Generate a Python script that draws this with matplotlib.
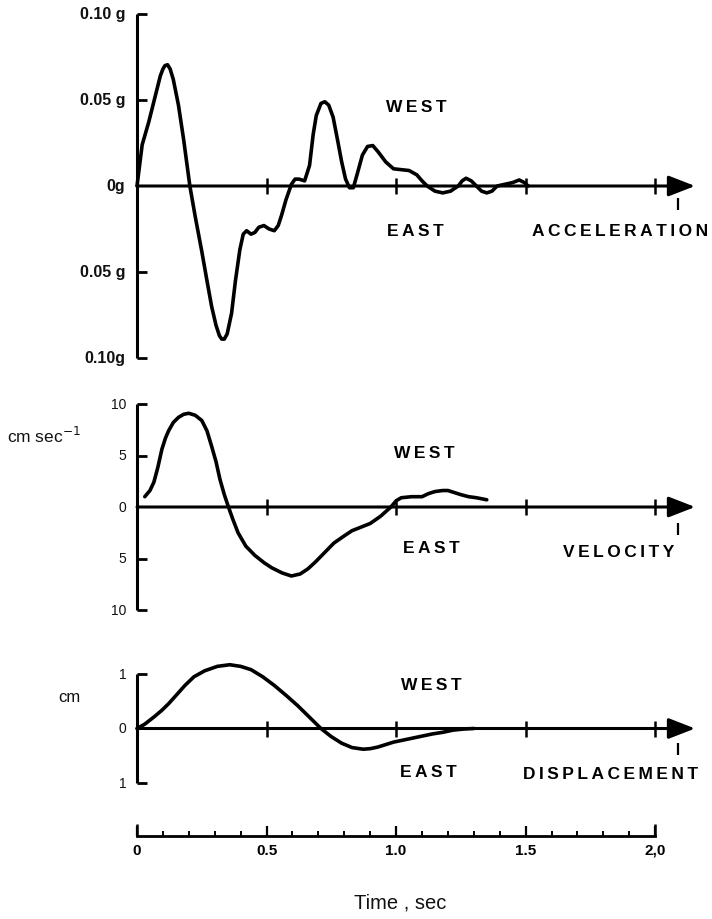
import matplotlib
matplotlib.use("Agg")
import matplotlib.pyplot as plt

# ---------------- data ----------------
acc_t = [0.00, 0.01, 0.02, 0.045, 0.07, 0.09, 0.100, 0.108, 0.118, 0.128, 0.14, 0.16, 0.18, 0.204,
         0.225, 0.25, 0.27, 0.288, 0.305, 0.318, 0.327, 0.337, 0.348, 0.365, 0.38, 0.397, 0.41,
         0.423, 0.44, 0.455, 0.47, 0.49, 0.51, 0.53, 0.545, 0.558, 0.575, 0.596,
         0.61, 0.625, 0.647, 0.666, 0.68, 0.692, 0.71, 0.725, 0.74, 0.757, 0.775,
         0.79, 0.805, 0.82, 0.835, 0.85, 0.87, 0.89, 0.91, 0.93, 0.96, 0.99, 1.02,
         1.05, 1.08, 1.10, 1.12, 1.15, 1.18, 1.21, 1.24, 1.255, 1.27, 1.29, 1.31,
         1.33, 1.35, 1.37, 1.39, 1.42, 1.45, 1.475, 1.495, 1.51]
acc_g = [0.000, 0.012, 0.024, 0.037, 0.052, 0.064, 0.068, 0.070, 0.0705, 0.068, 0.062, 0.047, 0.027, 0.000,
         -0.018, -0.038, -0.055, -0.070, -0.081, -0.087, -0.089, -0.089, -0.086, -0.074, -0.055, -0.037, -0.028,
         -0.026, -0.028, -0.027, -0.024, -0.023, -0.025, -0.026, -0.023, -0.017, -0.008, 0.001,
         0.004, 0.004, 0.003, 0.012, 0.030, 0.041, 0.048, 0.049, 0.047, 0.040, 0.026,
         0.014, 0.004, -0.001, -0.001, 0.007, 0.018, 0.023, 0.0235, 0.020, 0.014, 0.010, 0.0095,
         0.009, 0.0065, 0.003, 0.000, -0.003, -0.004, -0.003, 0.000, 0.003, 0.0045, 0.003, 0.000,
         -0.003, -0.004, -0.003, 0.000, 0.001, 0.002, 0.0035, 0.002, 0.000]

vel_t = [0.03, 0.05, 0.065, 0.08, 0.096, 0.11, 0.122, 0.14, 0.16, 0.18, 0.20, 0.225,
         0.25, 0.27, 0.288, 0.305, 0.32, 0.337, 0.353, 0.37, 0.39, 0.42, 0.455, 0.49,
         0.52, 0.56, 0.596, 0.63, 0.66, 0.69, 0.725, 0.76, 0.80, 0.83, 0.86, 0.90,
         0.94, 0.98, 1.00, 1.02, 1.06, 1.10, 1.125, 1.15, 1.18, 1.20, 1.225, 1.25,
         1.28, 1.31, 1.35]
vel_cm = [1.0, 1.6, 2.4, 3.8, 5.6, 6.7, 7.4, 8.2, 8.7, 9.0, 9.1, 8.9,
          8.4, 7.4, 5.9, 4.4, 2.7, 1.2, 0.0, -1.2, -2.5, -3.8, -4.7, -5.4,
          -5.9, -6.4, -6.7, -6.5, -6.0, -5.3, -4.4, -3.5, -2.8, -2.3, -2.0, -1.6,
          -0.9, 0.0, 0.6, 0.9, 1.0, 1.0, 1.3, 1.5, 1.6, 1.6, 1.4, 1.2,
          1.0, 0.9, 0.7]

dis_t = [0.0, 0.03, 0.065, 0.095, 0.123, 0.155, 0.185, 0.22, 0.262, 0.31, 0.358, 0.40,
         0.44, 0.485, 0.53, 0.575, 0.62, 0.665, 0.71, 0.75, 0.79, 0.83, 0.873, 0.90,
         0.93, 0.99, 1.04, 1.09, 1.14, 1.18, 1.22, 1.26, 1.30]
dis_cm = [0.0, 0.08, 0.21, 0.33, 0.46, 0.63, 0.79, 0.95, 1.06, 1.14, 1.17, 1.14,
          1.08, 0.95, 0.79, 0.61, 0.42, 0.21, 0.0, -0.15, -0.27, -0.35, -0.38, -0.37,
          -0.34, -0.25, -0.20, -0.15, -0.10, -0.07, -0.03, -0.01, 0.0]

time_ticks = [0.5, 1.0, 1.5, 2.0]
acc_yticks = [0.10, 0.05, 0.0, -0.05, -0.10]
acc_ylabels = ["0.10 g", "0.05 g", "0g", "0.05 g", "0.10g"]
vel_yticks = [10, 5, 0, -5, -10]
vel_ylabels = ["10", "5", "0", "5", "10"]
dis_yticks = [1, 0, -1]
dis_ylabels = ["1", "0", "1"]
ruler_major = [0.0, 0.5, 1.0, 1.5, 2.0]
ruler_labels = ["0", "0.5", "1.0", "1.5", "2,0"]
ruler_minor = [0.1, 0.2, 0.3, 0.4, 0.6, 0.7, 0.8, 0.9, 1.1, 1.2, 1.3, 1.4,
               1.6, 1.7, 1.8, 1.9]

# ---------------- figure ----------------
W, H = 712, 920
fig = plt.figure(figsize=(W / 100, H / 100), dpi=100)
fig.patch.set_facecolor("white")

FAM = ["Liberation Sans", "DejaVu Sans"]
TS = "\u2009"  # thin space for letter spacing
def spaced(s):
    return TS.join(list(s))

X0 = 137
XW = 570  # pixels for 0..2.2 s


def panel(top, bottom, ylim):
    ax = fig.add_axes([X0 / W, (H - bottom) / H, XW / W, (bottom - top) / H])
    ax.set_xlim(0, 2.2)
    ax.set_ylim(*ylim)
    ax.axis("off")
    return ax


def draw_axes(ax, ylim, brackets, tick_len=0.04):
    k = dict(color="black", lw=2.2, clip_on=False, solid_capstyle="butt")
    ax.plot([0, 0], list(ylim), **k)
    ax.hlines(brackets, 0, tick_len, colors="black", lw=2.0, clip_on=False)
    ax.annotate("", xy=(2.154, 0), xytext=(0, 0),
                arrowprops=dict(arrowstyle="-|>,head_length=0.9,head_width=0.35",
                                lw=2.2, color="black", shrinkA=0, shrinkB=0,
                                mutation_scale=18),
                annotation_clip=False)
    ax.plot(time_ticks, [0] * len(time_ticks), ls="none", marker="|",
            ms=11, mew=1.8, color="black", clip_on=False)


def curve(ax, t, v):
    ax.plot(t, v, color="black", lw=2.6, solid_capstyle="round",
            solid_joinstyle="round", clip_on=False)


BIG = dict(fontsize=12.5, fontweight="bold", family=FAM, color="black")
SMALL = dict(fontsize=11.5, fontweight="bold", family=FAM, color="#111111")
REG = dict(family=FAM, color="#111111")

# ---- acceleration ----
ax1 = panel(15, 359, (-0.10, 0.10))
draw_axes(ax1, (-0.10, 0.10), [0.10, 0.05, -0.05, -0.10])
curve(ax1, acc_t, acc_g)
for yv, lab in zip(acc_yticks, acc_ylabels):
    ax1.text(-0.045, yv, lab, ha="right", va="center", **SMALL)
ax1.text(1.077, 0.0465, spaced("WEST"), ha="center", va="center", **BIG)
ax1.text(1.073, -0.026, spaced("EAST"), ha="center", va="center", **BIG)
ax1.text(1.525, -0.026, spaced("ACCELERATION"), ha="left", va="center", **BIG)
ax1.plot([2.09], [-0.0105], marker="|", ms=9, mew=1.6, color="black", clip_on=False)

# ---- velocity ----
ax2 = panel(405, 611, (-10, 10))
draw_axes(ax2, (-10, 10), [10, 5, -5, -10])
curve(ax2, vel_t, vel_cm)
for yv, lab in zip(vel_yticks, vel_ylabels):
    ax2.text(-0.04, yv, lab, ha="right", va="center", fontsize=10, **REG)
ax2.text(-0.50, 7.0, "cm sec$^{-1}$", ha="left", va="center", fontsize=12.5, **REG)
ax2.text(1.108, 5.3, spaced("WEST"), ha="center", va="center", **BIG)
ax2.text(1.135, -3.9, spaced("EAST"), ha="center", va="center", **BIG)
ax2.text(1.645, -4.3, spaced("VELOCITY"), ha="left", va="center", **BIG)
ax2.plot([2.09], [-2.1], marker="|", ms=9, mew=1.6, color="black", clip_on=False)

# ---- displacement ----
ax3 = panel(675, 784, (-1, 1))
draw_axes(ax3, (-1, 1), [1, -1])
curve(ax3, dis_t, dis_cm)
for yv, lab in zip(dis_yticks, dis_ylabels):
    ax3.text(-0.04, yv, lab, ha="right", va="center", fontsize=10, **REG)
ax3.text(-0.305, 0.59, "cm", ha="left", va="center", fontsize=12, **REG)
ax3.text(1.135, 0.81, spaced("WEST"), ha="center", va="center", **BIG)
ax3.text(1.125, -0.79, spaced("EAST"), ha="center", va="center", **BIG)
ax3.text(1.49, -0.83, spaced("DISPLACEMENT"), ha="left", va="center", **BIG)
ax3.plot([2.09], [-0.385], marker="|", ms=9, mew=1.6, color="black", clip_on=False)

# ---- time ruler ----
ax4 = fig.add_axes([X0 / W, (H - 837) / H, XW / W, 10 / H])
ax4.set_xlim(0, 2.2)
ax4.set_ylim(0, 1)
for s in ("top", "right", "left"):
    ax4.spines[s].set_visible(False)
ax4.spines["bottom"].set_bounds(0, 2.0)
ax4.spines["bottom"].set_linewidth(2.0)
ax4.set_yticks([])
ax4.set_xticks(ruler_major)
ax4.set_xticklabels(ruler_labels)
ax4.set_xticks(ruler_minor, minor=True)
ax4.tick_params(axis="x", which="major", direction="in", length=7, width=1.6,
                pad=5, labelsize=11)
ax4.tick_params(axis="x", which="minor", direction="in", length=3.5, width=1.4)
for lab in ax4.get_xticklabels():
    lab.set_fontweight("bold")
    lab.set_family(FAM)
ax4.vlines([0.0, 2.0], 0, 1.2, colors="black", lw=1.8, clip_on=False)
ax4.patch.set_alpha(0)
ax4.text(1.015, -6.6, "Time , sec", ha="center", va="center", fontsize=14.5, **REG)

fig.savefig("out.png", dpi=100, facecolor="white")
